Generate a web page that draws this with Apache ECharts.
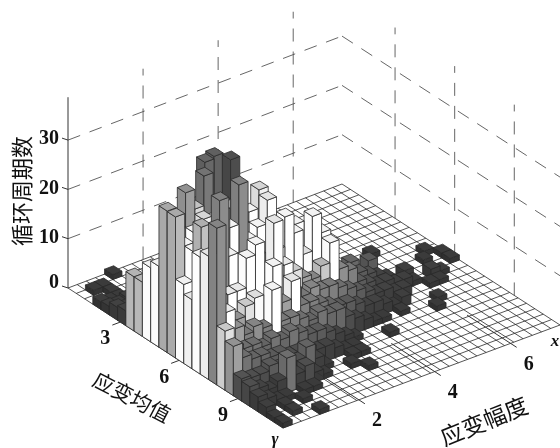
<!DOCTYPE html>
<html>
<head>
<meta charset="utf-8">
<style>html,body{margin:0;background:#fff}#chart{width:560px;height:448px}</style>
<script src="https://cdn.jsdelivr.net/npm/echarts@6/dist/echarts.min.js"></script>
</head>
<body>
<div id="chart"></div>
<script>
// axis ranges
const xRange = [0, 7.3];
const yRange = [0.33, 11.3];
const zTop = 38.7;
const xBins = 30;
const yBins = 26;
const xTicks = [2, 4, 6];
const yTicks = [3, 6, 9];
const zTicks = [0, 10, 20, 30];

// one list per mean-strain bin, pairs of [amplitude bin, cycle count]
const counts = [
  [[4,1]],
  [[1,1],[2,1]],
  [[2,1]],
  [[0,1.5],[1,1],[2,1]],
  [[0,1.7],[1,1.5],[2,2],[3,1]],
  [[0,2.6],[1,2],[2,2]],
  [[0,3],[1,2]],
  [[0,11]],
  [[0,11],[1,6]],
  [[0,15],[1,14],[2,10],[24,1]],
  [[0,16.4],[1,18],[2,20],[3,24],[4,26],[5,34],[6,34.5],[7,22],[8,12]],
  [[0,28.7],[1,24],[2,31],[3,27],[4,33],[5,26],[6,24],[7,26],[8,18],[9,20],[10,26],[28,1]],
  [[0,28.6],[1,22],[2,24],[3,26],[4,25],[5,28],[6,36],[7,22],[8,24],[9,18],[10,25],[11,14],[12,14],[13,18],[14,10],[15,6],[18,5],[19,6],[21,5],[27,1],[29,1]],
  [[0,16],[1,22],[2,22],[3,24],[4,28],[5,24],[6,32],[7,20],[8,22],[9,18],[10,16],[11,22],[12,18],[13,13],[14,20],[15,16],[16,8],[17,6],[18,4],[19,5],[20,4],[21,3],[22,2],[24,2],[29,1]],
  [[0,14],[1,28],[2,20],[3,32],[4,20],[5,18],[6,16],[7,18],[8,16],[9,14],[10,14],[11,12],[12,10],[13,9],[14,11],[15,15],[16,9],[17,8],[18,5],[19,4],[20,3],[21,3],[22,2],[23,2],[24,1],[26,2],[27,1]],
  [[0,23.7],[1,18],[2,10],[3,14],[4,14],[5,20],[6,22],[7,14],[8,25],[9,12],[10,10],[11,8],[12,9],[13,8],[14,8],[15,7],[16,6],[17,5],[18,4],[19,3],[20,3],[21,2],[22,2],[25,1],[26,1]],
  [[0,25],[1,16],[2,9],[3,10],[4,12],[5,13],[6,11],[7,18],[8,10],[9,13.6],[10,8],[11,8],[12,7],[13,6],[14,5],[15,5],[16,4],[17,3],[18,3],[19,2],[20,1],[21,2]],
  [[0,31.8],[1,14],[2,10],[3,8],[4,9],[5,8],[6,15],[7,8],[8,8],[9,7],[10,6],[11,7],[12,6],[13,6],[14,4],[15,3],[16,2],[17,1],[18,1],[20,1],[24,1]],
  [[0,12],[1,8],[2,7],[3,7],[4,6],[5,7],[6,6],[7,7],[8,6],[9,5],[10,5],[11,4],[12,3],[13,2],[14,1],[23,1]],
  [[0,10],[1,7],[2,6],[3,6],[4,5],[5,5],[6,4],[7,4],[8,4],[9,3],[10,3],[11,2],[12,1],[13,1],[17,1]],
  [[0,4.5],[1,4],[2,4],[3,5],[4,4],[5,3],[6,4],[7,6],[8,3],[9,1],[12,1],[13,1]],
  [[0,4],[1,3],[2,2],[3,3],[4,7],[5,3],[6,4],[7,2],[8,1],[11,1]],
  [[0,3],[1,2],[2,1],[3,1],[5,1],[6,1],[12,1]],
  [[0,2],[2,1],[4,1]],
  [[0,1],[2,1]],
  [[0,1],[4,1]]
];

// bar colour by height
const grayHeights = [0, 3, 5, 8, 10, 11, 13, 15, 24, 26, 28, 31, 34, 36];
const grayColors = ['#2a2a2a', '#383838', '#505050', '#707070', '#8c8c8c', '#b0b0b0', '#dcdcdc', '#f2f2f2', '#f4f4f4', '#d4d4d4', '#aaaaaa', '#8a8a8a', '#5c5c5c', '#444444'];

// floor corners on the page (left, back, front, right)
const cL = [68, 288], cB = [342, 184], cF = [283, 428], cR = [560, 325];
const W = 560, H = 448;
const zScale = 4.93;

const chart = echarts.init(document.getElementById('chart'), null, {renderer: 'canvas'});

function grayFor(h) {
  let i = 0;
  while (i < grayHeights.length - 2 && h > grayHeights[i + 1]) i++;
  const t = Math.min(1, (h - grayHeights[i]) / (grayHeights[i + 1] - grayHeights[i]));
  return echarts.color.lerp(t, [grayColors[i], grayColors[i + 1]]);
}

// takes the grid pixel of (x, y) and tilts it onto the floor, then lifts it by z
function project(api, x, y, z) {
  const p = api.coord([x, y]);
  const u = p[0] / W, v = p[1] / H;
  const sx = cL[0]*(1-u)*(1-v) + cB[0]*u*(1-v) + cF[0]*(1-u)*v + cR[0]*u*v;
  const sy = cL[1]*(1-u)*(1-v) + cB[1]*u*(1-v) + cF[1]*(1-u)*v + cR[1]*u*v;
  return [sx, sy - (z || 0) * zScale];
}

const xStep = (xRange[1] - xRange[0]) / xBins;
const yStep = (yRange[1] - yRange[0]) / yBins;

// back to front, so that nearer bars paint over farther ones
const barData = [];
for (let i = xBins - 1; i >= 0; i--) {
  counts.forEach((row, j) => {
    row.forEach(c => {
      if (c[0] === i) barData.push([xRange[0] + i*xStep, yRange[0] + j*yStep, c[1]]);
    });
  });
}

const meshData = [];
for (let i = 0; i <= xBins; i++) {
  const x = xRange[0] + i*xStep;
  meshData.push([x, yRange[0], x, yRange[1]]);
}
for (let j = 0; j <= yBins; j++) {
  const y = yRange[0] + j*yStep;
  meshData.push([xRange[0], y, xRange[1], y]);
}

function face(points, fill) {
  return {type: 'polygon', shape: {points: points}, style: {fill: fill, stroke: '#2a2a2a', lineWidth: 0.8}};
}

function renderBar(params, api) {
  const x0 = api.value(0), y0 = api.value(1), h = api.value(2);
  const x1 = x0 + xStep, y1 = y0 + yStep;
  const base = grayFor(h);
  const a = project(api, x0, y0, 0), b = project(api, x0, y1, 0), c = project(api, x1, y1, 0);
  const at = project(api, x0, y0, h), bt = project(api, x0, y1, h), ct = project(api, x1, y1, h), dt = project(api, x1, y0, h);
  return {type: 'group', children: [
    face([a, b, bt, at], echarts.color.lift(base, -0.04)),
    face([b, c, ct, bt], echarts.color.lift(base, -0.14)),
    face([at, bt, ct, dt], echarts.color.lift(base, 0.06))
  ]};
}

function renderMesh(params, api) {
  const a = project(api, api.value(0), api.value(1), 0);
  const b = project(api, api.value(2), api.value(3), 0);
  return {type: 'line', shape: {x1: a[0], y1: a[1], x2: b[0], y2: b[1]}, style: {stroke: '#2a2a2a', lineWidth: 0.8}};
}

function dashLine(a, b) {
  return {type: 'line', shape: {x1: a[0], y1: a[1], x2: b[0], y2: b[1]},
    style: {stroke: '#555', lineWidth: 0.9, lineDash: [13, 10]}};
}

function solidLine(a, b) {
  return {type: 'line', shape: {x1: a[0], y1: a[1], x2: b[0], y2: b[1]}, style: {stroke: '#333', lineWidth: 1}};
}

function tickText(text, p, font) {
  return {type: 'text', style: {text: text, x: p[0], y: p[1], font: font || 'bold 20px "Liberation Serif"', fill: '#111', align: 'center', verticalAlign: 'middle'}};
}

// walls: dashed grid behind the floor
function renderWalls(params, api) {
  const kids = [];
  zTicks.slice(1).forEach(z => {
    kids.push(dashLine(project(api, xRange[0], yRange[0], z), project(api, xRange[1], yRange[0], z)));
    kids.push(dashLine(project(api, xRange[1], yRange[0], z), project(api, xRange[1], yRange[1], z)));
  });
  xTicks.forEach(x => kids.push(dashLine(project(api, x, yRange[0], 0), project(api, x, yRange[0], zTop))));
  yTicks.forEach(y => kids.push(dashLine(project(api, xRange[1], y, 0), project(api, xRange[1], y, zTop))));
  kids.push(solidLine(project(api, xRange[0], yRange[0], 0), project(api, xRange[0], yRange[0], zTop)));
  zTicks.forEach(z => {
    const p = project(api, xRange[0], yRange[0], z);
    kids.push(solidLine(p, [p[0] - 6, p[1] - 2]));
  });
  return {type: 'group', children: kids};
}

// ticks on the floor edges and all the text
function renderLabels(params, api) {
  const kids = [];
  zTicks.forEach(z => {
    const p = project(api, xRange[0], yRange[0], z);
    kids.push(tickText(String(z), [p[0] - (z ? 19 : 14), p[1] - (z ? 1 : 5)]));
  });
  xTicks.forEach(x => {
    const p = project(api, x, yRange[1], 0);
    kids.push(solidLine(project(api, x, yRange[1] - 2.2, 0), [p[0] + 6, p[1] + 4]));
    kids.push(tickText(String(x), [p[0] + 18, p[1] + 21]));
  });
  yTicks.forEach(y => {
    const p = project(api, xRange[0], y, 0);
    kids.push(solidLine(p, [p[0] - 8, p[1] + 3]));
    kids.push(tickText(String(y), [p[0] - 15, p[1] + 17]));
  });
  const axisFont = '21px "Noto Sans CJK SC"';
  kids.push({type: 'text', rotation: Math.PI / 2, x: 22, y: 191, style: {text: '循环周期数', font: '22px "Noto Sans CJK SC"', fill: '#111', align: 'center', verticalAlign: 'middle'}});
  kids.push({type: 'text', rotation: -0.48, x: 132, y: 397, style: {text: '应变均值', font: axisFont, fill: '#111', align: 'center', verticalAlign: 'middle'}});
  kids.push({type: 'text', rotation: 0.38, x: 484, y: 421, style: {text: '应变幅度', font: '23px "Noto Sans CJK SC"', fill: '#111', align: 'center', verticalAlign: 'middle'}});
  kids.push(tickText('x', [555, 342], 'italic bold 17px "Liberation Serif"'));
  kids.push(tickText('γ', [275, 440], 'italic bold 17px "Liberation Serif"'));
  return {type: 'group', children: kids};
}

const option = {
  animation: false,
  backgroundColor: '#fff',
  grid: {left: 0, top: 0, width: W, height: H},
  xAxis: {type: 'value', min: xRange[0], max: xRange[1], show: false},
  yAxis: {type: 'value', min: yRange[0], max: yRange[1], inverse: true, show: false},
  series: [
    {type: 'custom', silent: true, z: 1, renderItem: renderWalls, data: [[0, 0]]},
    {type: 'custom', silent: true, z: 2, renderItem: renderMesh, data: meshData, encode: {x: [0, 2], y: [1, 3]}},
    {type: 'custom', silent: true, z: 3, progressive: 0, renderItem: renderBar, data: barData, encode: {x: 0, y: 1}},
    {type: 'custom', silent: true, z: 4, renderItem: renderLabels, data: [[0, 0]]}
  ]
};
chart.setOption(option);
</script>
</body>
</html>
